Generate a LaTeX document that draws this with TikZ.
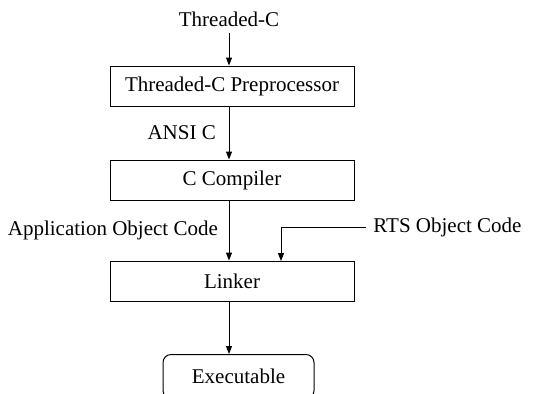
\documentclass[tikz,border=0pt]{standalone}
\usepackage{fontspec}
\setmainfont{Liberation Serif}
\usepackage{tikz}
\usetikzlibrary{arrows.meta, positioning}

\begin{document}
\begin{tikzpicture}[x=0.5pt,y=-0.5pt,
 font=\fontsize{10.5}{12}\selectfont,
 stage/.style={rectangle,draw,line width=0.5pt,minimum width=122pt,minimum height=20pt,inner sep=0pt},
 result/.style={rectangle,rounded corners=4pt,draw,line width=0.5pt,minimum width=75.5pt,minimum height=22pt,inner sep=0pt},
 arrow/.style={-{Triangle[length=4pt,width=3pt]},line width=0.5pt}]
\clip (0,0) rectangle (533,393);
\node (src) at (229,19) {Threaded-C};
\node[stage] (pre) at (232,86) {Threaded-C Preprocessor};
\node[stage] (cc) at (232,180) {C Compiler};
\node[stage] (lnk) at (232,281) {Linker};
\node[result] (exe) at (238.5,376.5) {Executable};
\node (rts) at (447.5,227) {RTS Object Code};
\coordinate (rtsin) at (281,261);
\draw[arrow] (src) -- (src |- pre.north);
\draw[arrow] (pre.south -| src) -- node[left=3pt] {ANSI C} (cc.north -| src);
\draw[arrow] (cc.south -| src) -- node[left=2pt] {Application Object Code} (lnk.north -| src);
\draw[arrow] (rts) -| (rtsin);
\draw[arrow] (lnk.south -| src) -- (exe.north -| src);
\end{tikzpicture}
\end{document}
